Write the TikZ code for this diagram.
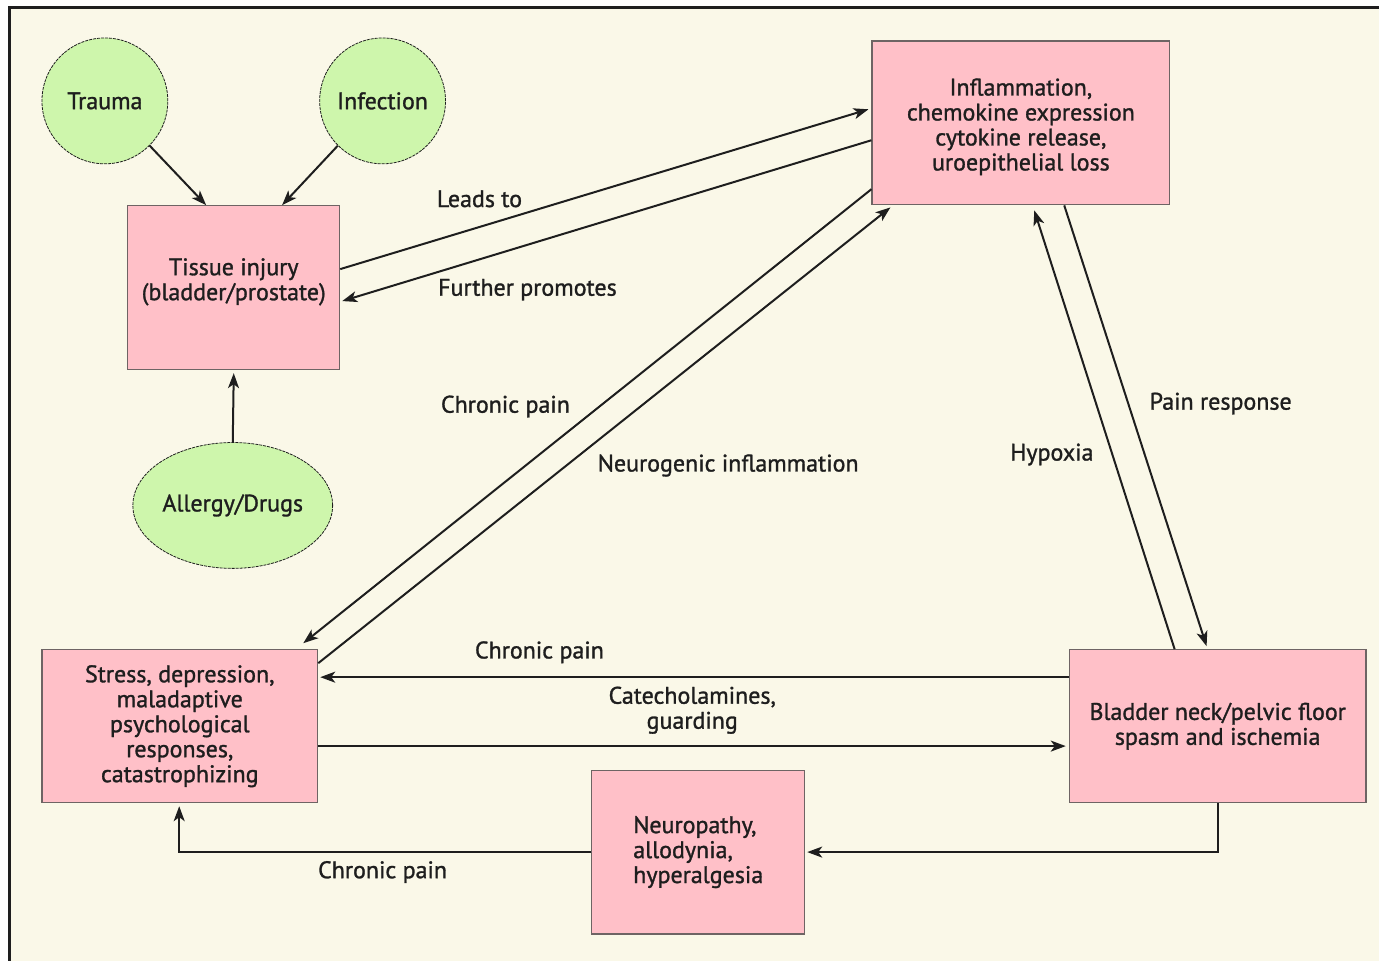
\documentclass[tikz,border=0pt]{standalone}
\usepackage{fontspec}
\setmainfont{PT Sans}
\newfontfamily\diagface{PT Sans}[FakeBold=1.2]
\usetikzlibrary{calc,arrows.meta,shapes.geometric}
\definecolor{cream}{RGB}{250,248,232}
\definecolor{boxpink}{RGB}{255,192,200}
\definecolor{boxedge}{RGB}{110,100,100}
\definecolor{leafgreen}{RGB}{206,246,172}
\definecolor{inkdark}{RGB}{30,30,30}
\newcommand\diagfont{\diagface\fontsize{24}{25}\selectfont}
\tikzset{
  causebox/.style={draw=boxedge, line width=1.2pt, fill=boxpink, text=inkdark,
    font=\diagfont, align=center, inner sep=0pt},
  origin/.style={draw=inkdark, dashed, dash pattern=on 3pt off 1pt, line width=0.8pt,
    fill=leafgreen, text=inkdark, font=\diagfont, inner sep=0pt},
  lbl/.style={text=inkdark, font=\diagfont, align=center, inner sep=0pt},
  arr/.style={draw=inkdark, line width=2pt,
    -{Stealth[length=15pt,width=11pt,inset=4pt]}},
}
\begin{document}
\begin{tikzpicture}[x=1pt,y=-1pt]
  % page and frame
  \fill[white] (0,0) rectangle (1380,962);
  \fill[cream] (10,8) rectangle (1380,962);
  \draw[inkdark, line width=3pt] (10,962) -- (10,8) -- (1380,8);
  \useasboundingbox (0,0) rectangle (1380,962);

  % origins of injury
  \node[origin, circle, minimum size=126pt] (trauma) at (105,101) {Trauma};
  \node[origin, circle, minimum size=126pt] (infection) at (383,101) {Infection};
  \node[origin, ellipse, minimum width=200pt, minimum height=126pt] (allergy) at (233,506) {Allergy/Drugs};

  % boxes
  \node[causebox, minimum width=212pt, minimum height=164pt] (tissue) at (234,288)
    {Tissue injury\\(bladder/prostate)\\[-8pt]\mbox{}};
  \node[causebox, minimum width=298pt, minimum height=164pt] (inflam) at (1022,123)
    {\mbox{}\\[0pt]Inflammation,\\chemokine expression\\cytokine release,\\uroepithelial loss};
  \node[causebox, minimum width=276pt, minimum height=153pt] (stress) at (180,727)
    {Stress, depression,\\maladaptive\\psychological\\responses,\\catastrophizing};
  \node[causebox, minimum width=297pt, minimum height=153pt] (bladder) at (1219,727)
    {Bladder neck/pelvic floor\\spasm and ischemia};
  \node[causebox, minimum width=213pt, minimum height=164pt, align=left] (neuro) at (699,853)
    {Neuropathy,\\allodynia,\\hyperalgesia};

  % anchor points on the box edges
  \coordinate (tTop1) at ($(tissue.north west)+(79,0)$);
  \coordinate (tTop2) at ($(tissue.north west)+(155,0)$);
  \coordinate (tR1) at ($(tissue.north east)+(0,64)$);
  \coordinate (tR2) at ($(tissue.north east)+(2,96)$);
  \coordinate (iL1) at ($(inflam.north west)+(-3,69)$);
  \coordinate (iL2) at ($(inflam.north west)+(0,100)$);
  \coordinate (iL3) at ($(inflam.north west)+(0,149)$);
  \coordinate (iB1) at ($(inflam.south west)+(19,2)$);
  \coordinate (iB2) at ($(inflam.south west)+(163,5)$);
  \coordinate (iB3) at ($(inflam.south west)+(193,0)$);
  \coordinate (sT) at ($(stress.north east)+(-15,-6)$);
  \coordinate (sR1) at ($(stress.north east)+(0,14)$);
  \coordinate (sR2) at ($(stress.north east)+(2,28)$);
  \coordinate (sR3) at ($(stress.north east)+(0,97)$);
  \coordinate (bT1) at ($(bladder.north west)+(106,0)$);
  \coordinate (bT2) at ($(bladder.north west)+(138,-3)$);
  \coordinate (bL1) at ($(bladder.north west)+(0,28)$);
  \coordinate (bL2) at ($(bladder.north west)+(-3,97)$);
  \coordinate (sB) at ($(stress.south west)+(138,3)$);

  % connectors
  \draw[arr] (trauma.-45) -- (tTop1);
  \draw[arr] (infection.-135) -- (tTop2);
  \draw[arr] (allergy.north) -- ($(tissue.south)+(0,3)$);
  \draw[arr] (tR1) -- (iL1);
  \draw[arr] (iL2) -- (tR2);
  \draw[arr] (iL3) -- (sT);
  \draw[arr] (sR1) -- (iB1);
  \draw[arr] (bT1) -- (iB2);
  \draw[arr] (iB3) -- (bT2);
  \draw[arr] (bL1) -- (sR2);
  \draw[arr] (sR3) -- (bL2);
  \draw[arr] (bladder.south) |- ($(neuro.east)+(2,0)$);
  \draw[arr] (neuro.west) -| (sB);

  % connector labels
  \node[lbl] (l1) at (480,199) {Leads to};
  \node[lbl] (l2) at (528,290) {Further promotes};
  \node[lbl] (l3) at (506,407) {Chronic pain};
  \node[lbl] (l4) at (729,466) {Neurogenic inflammation};
  \node[lbl] (l5) at (1053,455) {Hypoxia};
  \node[lbl] (l6) at (1222,404) {Pain response};
  \node[lbl] (l7) at (540,653) {Chronic pain};
  \node[lbl] (l8) at (693,711) {Catecholamines,\\guarding};
  \node[lbl] (l9) at (383,873) {Chronic pain};
\end{tikzpicture}
\end{document}
